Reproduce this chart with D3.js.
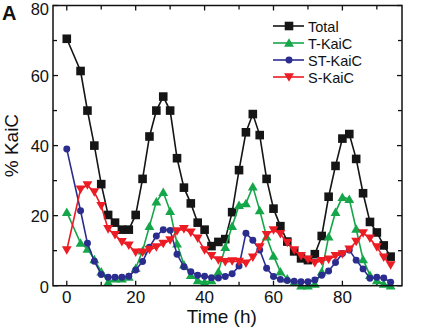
<!DOCTYPE html>
<html>
<head>
<meta charset="utf-8">
<script src="https://cdn.jsdelivr.net/npm/d3@7"></script>
<style>
  body { margin: 0; background: #fff; }
  svg { display: block; font-family: "Liberation Sans", Arial, sans-serif; }
</style>
</head>
<body>
<svg width="428" height="335"></svg>
<script>
// Data (time in hours, % KaiC)
const times = [0, 4, 6, 8, 10, 12, 14, 16, 18, 20, 22, 24, 26, 28, 30, 32, 34, 36, 38, 40, 42, 44, 46, 48,
    50, 52, 54, 56, 58, 60, 62, 64, 66, 68, 70, 72, 74, 76, 78, 80, 82, 84, 86, 88, 90, 92, 94];
const total = [70.5, 61.3, 50, 40, 29, 20.2, 18, 16, 16, 20.2, 30.5, 42.6, 50, 54, 50, 36.4, 28, 23.5, 18, 16,
    11.3, 12.5, 13.3, 21, 33, 43.8, 49, 43, 30.5, 22, 17, 12.6, 9.8, 7.8, 7.3, 9, 14.2, 25.4, 34.2, 42,
    43.3, 36.2, 26.4, 18.2, 15.2, 11.5, 8.3];
const tKaiC = [21, 12.2, 10.5, 7.5, 4, 1, 2, 2, 2.5, 5, 10, 17, 24, 26.7, 21.3, 12, 6, 3, 1.5, 1,
    1.5, 4, 11, 17, 23, 23.5, 28.3, 21.5, 14, 8.5, 4, 2, 1, 0, 0, 0.5, 4, 14, 21, 25.3,
    24.7, 16.2, 7.5, 3, 1.5, 0.5, 0];
const stKaiC = [39, 21.4, 12.1, 7, 3.2, 2.4, 2.4, 2.4, 2.7, 4.5, 6.9, 11, 14.2, 16, 15.8, 9, 5.4, 4, 3, 2.7,
    2.3, 2.2, 2.6, 3.4, 5.6, 15, 13, 10.2, 5, 2.6, 1.8, 1.5, 1.3, 1.1, 1.1, 1.6, 3, 4.2, 6.6, 9.2,
    10.2, 7.3, 4.8, 2.1, 2.4, 2.2, 1];
const sKaiC = [10.2, 27.5, 28.7, 26.7, 22.8, 16.2, 14.5, 12.5, 11.5, 9.5, 9.5, 10.3, 11, 12, 13, 15.6, 16.2, 15.2, 13.5, 10.2,
    8.5, 7.3, 6.8, 7, 6.9, 6.4, 8.1, 11, 14.5, 15.9, 14.8, 12.3, 10.2, 8.5, 7.5, 6.5, 7.1, 7.5, 8.5, 9,
    10.4, 12.6, 15, 13.5, 11, 8.1, 5.9];
const seriesNames = ["Total", "T-KaiC", "ST-KaiC", "S-KaiC"];
const xTicks = [0, 20, 40, 60, 80];
const yTicks = [0, 20, 40, 60, 80];

const svg = d3.select("svg");

// plot box
const pLeft = 53, pRight = 402, pTop = 5.5, pBottom = 285.7;
const x = d3.scaleLinear().domain([-4, 97.3]).range([pLeft, pRight]);
const y = d3.scaleLinear().domain([0, 80]).range([pBottom, pTop]);

// series styles
const styles = [
    { vals: total, color: "#151515", sym: d3.symbolSquare, size: 74, rot: 0 },
    { vals: tKaiC, color: "#16a64a", sym: d3.symbolTriangle, size: 42, rot: 0 },
    { vals: stKaiC, color: "#2b2d8e", sym: d3.symbolCircle, size: 38, rot: 0 },
    { vals: sKaiC, color: "#ec1c24", sym: d3.symbolTriangle, size: 42, rot: 180 },
];

// small vertical nudge so triangles sit centred on their point
const nudge = (s) => (s.sym !== d3.symbolTriangle ? 0 : s.rot ? -1 : 1);

// ticks (inward on all four sides)
const minorX = d3.range(0, 97, 10);
const minorY = d3.range(0, 81, 10);
const tickG = svg.append("g").attr("stroke", "#111").attr("stroke-width", 1.3);
minorX.forEach((t) => {
    const len = t % 20 === 0 ? 5 : 4;
    tickG.append("line").attr("x1", x(t)).attr("x2", x(t)).attr("y1", pBottom).attr("y2", pBottom - len);
    tickG.append("line").attr("x1", x(t)).attr("x2", x(t)).attr("y1", pTop).attr("y2", pTop + len);
});
minorY.forEach((v) => {
    const len = v % 20 === 0 ? 5 : 4;
    tickG.append("line").attr("x1", pLeft).attr("x2", pLeft + len).attr("y1", y(v)).attr("y2", y(v));
    tickG.append("line").attr("x1", pRight).attr("x2", pRight - len).attr("y1", y(v)).attr("y2", y(v));
});

// tick labels (top one pushed down a little so it stays inside the page)
svg.append("g").selectAll("text").data(xTicks).join("text")
    .attr("x", (d) => x(d)).attr("y", 303)
    .attr("text-anchor", "middle").attr("font-size", 17).attr("fill", "#111")
    .text((d) => d);
svg.append("g").selectAll("text").data(yTicks).join("text")
    .attr("x", 49).attr("y", (d) => Math.max(y(d) + 6.8, 15))
    .attr("text-anchor", "end").attr("font-size", 16.5).attr("fill", "#111")
    .text((d) => d);

// axis titles
svg.append("text").attr("x", x(45)).attr("y", 323)
    .attr("text-anchor", "middle").attr("font-size", 19).attr("fill", "#111")
    .text("Time (h)");
svg.append("text").attr("transform", `translate(18,${(pTop + pBottom) / 2}) rotate(-90)`)
    .attr("text-anchor", "middle").attr("font-size", 19).attr("fill", "#111")
    .text("% KaiC");
svg.append("text").attr("x", 2).attr("y", 20)
    .attr("font-size", 20).attr("font-weight", "bold").attr("fill", "#111")
    .text("A");

// series lines + markers
const line = d3.line().x((d) => x(d[0])).y((d) => y(d[1]));
styles.forEach((s) => {
    const pts = times.map((t, i) => [t, s.vals[i]]);
    svg.append("path").datum(pts)
        .attr("d", line).attr("fill", "none")
        .attr("stroke", s.color).attr("stroke-width", 1.6);
    svg.append("g").selectAll("path").data(pts).join("path")
        .attr("d", d3.symbol(s.sym, s.size))
        .attr("transform", (d) => `translate(${x(d[0])},${y(d[1]) + nudge(s)}) rotate(${s.rot})`)
        .attr("fill", s.color);
});

// frame
svg.append("rect").attr("x", pLeft).attr("y", pTop)
    .attr("width", pRight - pLeft).attr("height", pBottom - pTop)
    .attr("fill", "none").attr("stroke", "#111").attr("stroke-width", 1.5);

// legend
const leg = svg.append("g");
styles.forEach((s, i) => {
    const ly = 26 + i * 17;
    leg.append("line").attr("x1", 273).attr("x2", 304).attr("y1", ly).attr("y2", ly)
        .attr("stroke", s.color).attr("stroke-width", 1.6);
    leg.append("path").attr("d", d3.symbol(s.sym, s.size))
        .attr("transform", `translate(289,${ly + nudge(s)}) rotate(${s.rot})`)
        .attr("fill", s.color);
    leg.append("text").attr("x", 308).attr("y", ly + 5.5)
        .attr("font-size", 14.5).attr("fill", "#111")
        .text(seriesNames[i]);
});
</script>
</body>
</html>
